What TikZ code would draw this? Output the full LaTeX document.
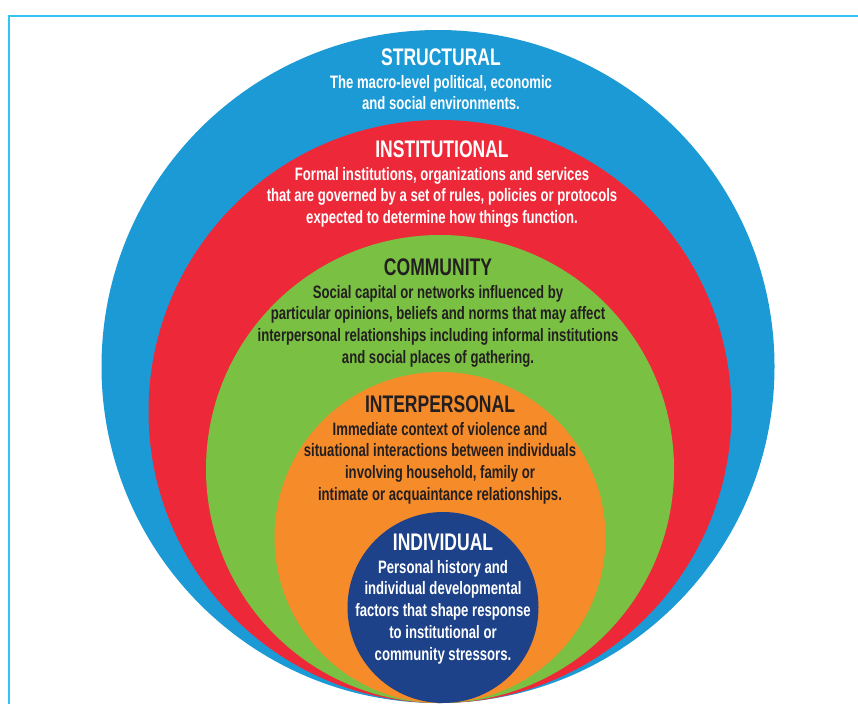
\documentclass[tikz,border=0pt]{standalone}
\usepackage{fontspec}
\setmainfont{Liberation Sans}[FakeStretch=0.73]
\usetikzlibrary{positioning}

\definecolor{framecyan}{HTML}{33C4F4}
\definecolor{structblue}{HTML}{1C9AD6}
\definecolor{instred}{HTML}{ED2939}
\definecolor{commgreen}{HTML}{7AC143}
\definecolor{interorange}{HTML}{F68B29}
\definecolor{indivnavy}{HTML}{1D4289}
\definecolor{darktext}{HTML}{231F20}

\tikzset{
  layer/.style={circle, inner sep=0pt, draw=none},
  head/.style={inner sep=0pt, anchor=base, font=\fontsize{24}{24}\selectfont\bfseries},
  body/.style={inner sep=0pt, align=center, font=\fontsize{18}{21.8}\selectfont\bfseries}
}

\begin{document}
\begin{tikzpicture}[x=1pt, y=-1pt]
\useasboundingbox (0,0) rectangle (858,704);
\draw[framecyan, line width=1.3pt] (9,704) |- (858,16);

% nested layers, all touching at the bottom
\node[layer, fill=structblue, minimum size=673pt] (structural) at (438,366.5) {};
\node[layer, fill=instred, minimum size=583pt] (institutional) at (440,411.5) {};
\node[layer, fill=commgreen, minimum size=468pt] (community) at (440,469) {};
\node[layer, fill=interorange, minimum size=331pt] (interpersonal) at (440,537.5) {};
\node[layer, fill=indivnavy, minimum size=191pt] (individual) at (443,607.5) {};

% labels
\node[head, white] (structural-head) at (441,65) {STRUCTURAL};
\node[body, white, below=9.4pt of structural-head] (structural-text)
  {The macro-level political, economic\\and social environments.};

\node[head, white] (institutional-head) at (442,157) {INSTITUTIONAL};
\node[body, white, below=9.4pt of institutional-head] (institutional-text)
  {Formal institutions, organizations and services\\that are governed by a set of rules, policies or protocols\\expected to determine how things function.};

\node[head, darktext] (community-head) at (438,275) {COMMUNITY};
\node[body, darktext, below=9.4pt of community-head] (community-text)
  {Social capital or networks influenced by\\particular opinions, beliefs and norms that may affect\\interpersonal relationships including informal institutions\\and social places of gathering.};

\node[head, darktext] (interpersonal-head) at (440,412) {INTERPERSONAL};
\node[body, darktext, below=9.4pt of interpersonal-head] (interpersonal-text)
  {Immediate context of violence and\\situational interactions between individuals\\involving household, family or\\intimate or acquaintance relationships.};

\node[head, white] (individual-head) at (443,550) {INDIVIDUAL};
\node[body, white, below=9.4pt of individual-head] (individual-text)
  {Personal history and\\individual developmental\\factors that shape response\\to institutional or\\community stressors.};

\end{tikzpicture}
\end{document}
